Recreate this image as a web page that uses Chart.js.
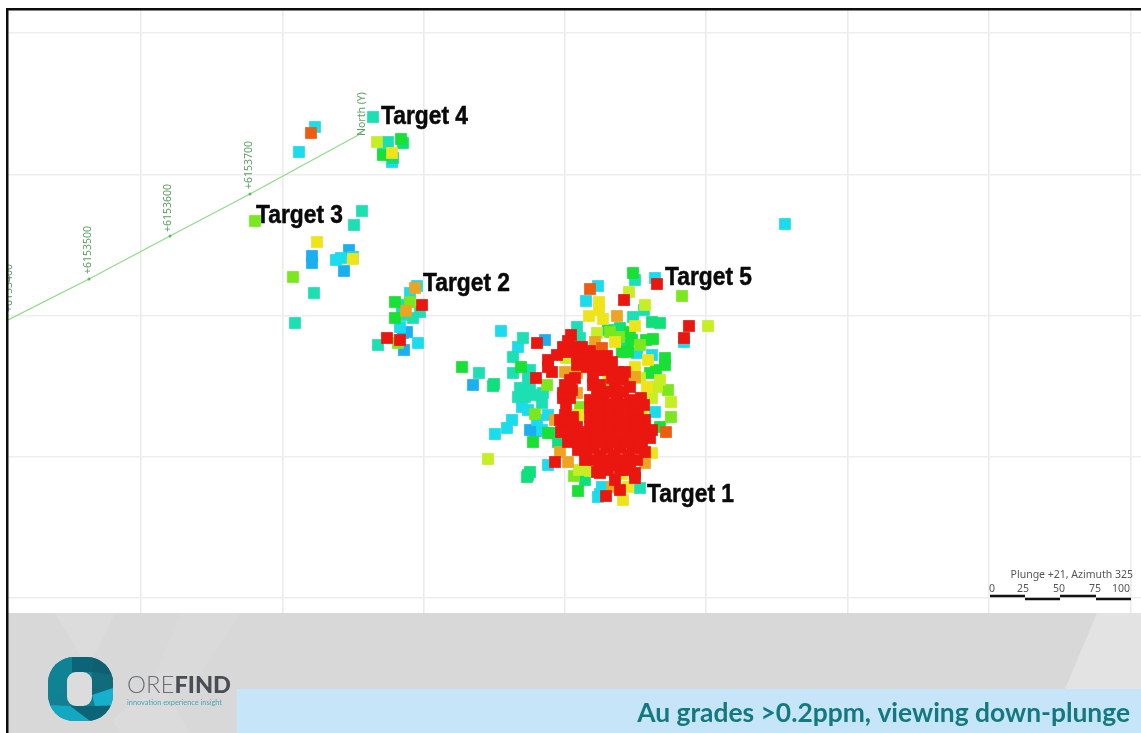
<!DOCTYPE html>
<html><head><meta charset="utf-8">
<style>html,body{margin:0;padding:0;background:#fff;overflow:hidden}canvas{display:block;filter:blur(.5px)}</style>
<script src="https://cdn.jsdelivr.net/npm/chart.js@4"></script></head>
<body><canvas id="c" width="1141" height="733"></canvas>
<script>
const gridX=[141,283,424,565,706,848,989,1131];
const gridY=[33,175,316,457,598];
const red=[[422,305],[387,338],[400,340],[657,284],[624,300],[689,326],[684,338],[537,343],[536,378],[555,462],[606,496],[620,490],[641,398],
[571,335],[563,347],[575,347],[568,341],[548,360],[557,355],[566,352],[577,357],[587,358],[603,363],[612,362],[552,372],[548,367],[577,365],[587,367],[603,370],[610,368],[618,372],[570,380],[593,377],[623,380],[563,393],[565,385],[575,378],[593,385],[630,387],[597,393],[617,392],[623,392],[563,398],[590,400],[603,400],[617,400],[630,400],[590,408],[603,408],[617,408],[630,408],[637,407],[565,415],[573,417],[590,417],[603,417],[617,417],[630,417],[645,420],[563,427],[577,427],[590,427],[603,427],[617,427],[630,427],[643,427],[570,437],[580,437],[592,438],[605,438],[618,438],[632,438],[650,438],[643,437],[578,450],[593,448],[607,448],[620,448],[633,448],[642,448],[595,460],[608,460],[622,460],[637,460],[597,472],[608,470],[620,470],[635,473],[627,470],[600,473],[615,480],[635,478],
[597,404],[610,404],[624,404],[597,412],[610,412],[624,412],[638,414],[597,422],[610,422],[624,422],[637,421],[597,433],[610,433],[624,433],[637,432],[584,432],[570,428],[572,422],[586,444],[600,443],[613,443],[627,443],[640,443],[586,455],[600,455],[614,455],[629,455],[645,452],[600,465],[614,465],[630,465],[566,405],[572,390],[570,398],[600,385],[597,370],[615,385],[612,378],[625,372],[582,347],[592,366],[585,460],
[560,420],[561,432],[568,442],[578,442],[652,430],[598,356],[607,356],[590,351],[644,405],[607,392]];
const redOrange=[[311,133],[602,348],[666,432],[590,289]];
const orange=[[415,288],[406,311],[617,316],[595,342],[597,349],[635,377],[565,372],[577,373],[577,393],[607,385],[555,420],[560,452],[568,462],[612,487],[645,463]];
const yellow=[[392,153],[317,242],[353,259],[599,302],[599,310],[589,316],[603,319],[635,326],[615,342],[648,360],[635,367],[608,380],[647,387],[643,412],[578,415],[652,453],[628,487],[623,500],[622,474]];
const yellowLime=[[377,142],[629,292],[645,305],[708,326],[597,333],[657,387],[671,402],[566,358],[488,459],[579,470],[590,471],[652,398],[640,378],[660,380]];
const lime=[[255,221],[293,277],[410,302],[398,343],[682,296],[619,337],[668,390],[671,417],[547,385],[535,414],[580,407],[574,476],[610,332],[640,345]];
const green=[[401,139],[383,155],[395,302],[395,318],[462,367],[633,273],[632,340],[653,339],[646,340],[622,352],[628,352],[665,358],[665,365],[650,373],[656,370],[521,367],[533,442],[578,491],[660,427],[548,433],[630,332]];
const spring=[[403,143],[393,158],[494,384],[493,386],[528,475],[527,477],[530,472],[652,322],[660,323],[552,433],[558,442],[608,330],[627,344],[585,480],[620,328]];
const teal=[[373,117],[388,142],[362,211],[354,225],[314,293],[295,323],[402,305],[413,318],[420,312],[402,315],[378,345],[479,373],[523,338],[513,357],[513,373],[530,370],[530,387],[543,393],[542,403],[635,280],[633,317],[580,338],[577,327],[640,488],[520,388],[525,397],[518,397],[644,310],[528,378],[535,395]];
const cyan=[[315,127],[299,152],[392,162],[383,153],[336,260],[341,258],[353,257],[417,286],[410,293],[400,327],[418,343],[501,331],[518,347],[522,407],[512,420],[507,428],[495,434],[542,430],[548,415],[548,465],[598,497],[602,487],[598,286],[586,301],[655,278],[637,353],[652,355],[785,224],[684,342],[655,412],[537,420],[528,410],[600,494]];
const blue=[[312,256],[312,263],[349,250],[344,271],[407,332],[403,333],[404,350],[473,385],[530,430],[545,340],[536,431]];
const axisLine=[[8,320],[89,279],[170,236],[250,194],[362,133]];
const axisTickText=["+6153400","+6153500","+6153600","+6153700","North (Y)"];
const axisTickPos=[[9,288],[88,250],[168,208],[249,165],[362,114]];
const targetNames=["Target 1","Target 2","Target 3","Target 4","Target 5"];
const targetPos=[[647,502],[423,291],[256,223],[381,124],[665,285]];
const barLow=[[1025,599],[1060,599]];const barLow2=[[1096,599],[1131,599]];
const barHigh=[[990,596],[1025,596]];const barHigh2=[[1060,596],[1096,596]];
const scaleNums=["0","25","50","75","100"];
const scaleNumX=[992,1023,1059,1095,1121];

const bands=[["red",red,"#ea1610"],["redOrange",redOrange,"#ee5c12"],["orange",orange,"#eca422"],["yellow",yellow,"#efe41a"],["yellowLime",yellowLime,"#c6ee22"],["lime",lime,"#7ae81c"],["green",green,"#18e034"],["spring",spring,"#10e07c"],["teal",teal,"#1ce0b4"],["cyan",cyan,"#1adcec"],["blue",blue,"#1ab0f0"]];
const pts=a=>a.map(p=>({x:p[0],y:p[1]}));
const seg=(a,color,w)=>({type:"line",data:pts(a),borderColor:color,borderWidth:w,pointRadius:0,showLine:true,order:20,label:"line",clip:false});
const datasets=bands.map((b,i)=>({label:b[0],data:pts(b[1]),pointStyle:"rect",pointRadius:8.3,pointHoverRadius:8.3,backgroundColor:b[2],borderWidth:0,order:i}));
datasets.push({type:"line",label:"axis",data:pts(axisLine),borderColor:"#8fdc88",borderWidth:1.3,pointRadius:[0,1.5,1.5,1.5,0],pointBackgroundColor:"#5fb85f",pointBorderWidth:0,showLine:true,order:30});
datasets.push(seg(barLow,"#111",2.6),seg(barLow2,"#111",2.6),seg(barHigh,"#111",2.6),seg(barHigh2,"#111",2.6));

function poly(ctx,p,c){ctx.fillStyle=c;ctx.beginPath();p.forEach((q,i)=>i?ctx.lineTo(q[0],q[1]):ctx.moveTo(q[0],q[1]));ctx.closePath();ctx.fill();}
const decor={id:"decor",
 afterDatasetsDraw(chart){
  const {ctx,scales:{x,y}}=chart;
  ctx.save();
  ctx.fillStyle="#0a0a0a";ctx.strokeStyle="#0a0a0a";ctx.lineWidth=.5;ctx.font="bold 25px 'Liberation Sans'";ctx.textAlign="left";ctx.textBaseline="alphabetic";
  targetNames.forEach((t,i)=>{const px=x.getPixelForValue(targetPos[i][0]),py=y.getPixelForValue(targetPos[i][1]);ctx.fillText(t,px,py,87);ctx.strokeText(t,px,py,87);});
  ctx.fillStyle="#5c9e62";ctx.font="10.5px 'Noto Sans'";ctx.textAlign="center";ctx.textBaseline="middle";
  ctx.save();ctx.beginPath();ctx.rect(8,10,1133,603);ctx.clip();
  axisTickText.forEach((t,i)=>{ctx.save();ctx.translate(x.getPixelForValue(axisTickPos[i][0]),y.getPixelForValue(axisTickPos[i][1]));ctx.rotate(-Math.PI/2);ctx.fillText(t,0,0);ctx.restore();});
  ctx.restore();
  ctx.fillStyle="#555";ctx.font="10.5px 'Noto Sans'";ctx.textAlign="right";
  ctx.fillText("Plunge +21, Azimuth 325",1133,575);
  ctx.textAlign="center";
  scaleNums.forEach((t,i)=>ctx.fillText(t,scaleNumX[i],589));
  ctx.restore();
 },
 afterDraw(chart){
  const ctx=chart.ctx;ctx.save();
  ctx.fillStyle="#d8d8d8";ctx.fillRect(8,613,1133,120);
  poly(ctx,[[55,613],[115,613],[88,668]],"#dcdcdc");
  poly(ctx,[[180,613],[240,613],[190,689],[150,689]],"#dadada");
  poly(ctx,[[1097,613],[1141,613],[1141,689],[1065,689]],"#e3e3e3");
  poly(ctx,[[112,720],[120,733],[190,733],[160,680]],"#dbdbdb");
  ctx.fillStyle="#c6e5f9";ctx.fillRect(237,689,904,44);
  ctx.fillStyle="#14797f";ctx.font="bold 26.4px Lato";ctx.textAlign="right";ctx.textBaseline="alphabetic";
  ctx.fillText("Au grades >0.2ppm, viewing down-plunge",1130,722);
  ctx.save();
  ctx.beginPath();ctx.roundRect(48,657,65,64,26);ctx.clip();
  ctx.fillStyle="#137f93";ctx.fillRect(48,657,65,64);
  poly(ctx,[[48,657],[72,657],[72,690],[48,700]],"#0f8294");
  poly(ctx,[[72,657],[95,657],[95,672],[72,672]],"#0b6478");
  poly(ctx,[[95,657],[113,657],[113,680],[92,672]],"#0e5f70");
  poly(ctx,[[92,672],[113,675],[113,695],[92,700]],"#116b7b");
  poly(ctx,[[92,695],[113,688],[113,705],[95,706]],"#16b0cd");
  poly(ctx,[[70,706],[113,706],[113,721],[90,721]],"#0c6477");
  poly(ctx,[[70,706],[90,721],[60,721],[48,705]],"#12a8c2");
  ctx.restore();
  ctx.fillStyle="#dcdcdc";ctx.beginPath();ctx.roundRect(67,672,25,34,9);ctx.fill();
  ctx.textAlign="left";ctx.fillStyle="#6c7076";ctx.font="300 24px Lato";
  ctx.fillText("ORE",127,693);const w=ctx.measureText("ORE").width;
  ctx.fillStyle="#4a4e54";ctx.font="900 23.5px Lato";ctx.fillText("FIND",127+w,693);
  ctx.fillStyle="#4aa6b4";ctx.font="7.4px Lato";ctx.fillText("innovation experience insight",127,705,104);
  ctx.fillStyle="#0c0c0c";ctx.fillRect(6,8,1135,2.5);ctx.fillRect(6,8,2.5,725);
  ctx.restore();
 }};
new Chart(document.getElementById("c"),{type:"scatter",data:{datasets},plugins:[decor],
 options:{responsive:false,animation:false,
  layout:{autoPadding:false,padding:{left:8,top:10,right:0,bottom:120}},
  plugins:{legend:{display:false},tooltip:{enabled:false},title:{display:false}},
  events:[],
  scales:{
   x:{type:"linear",min:8,max:1141,border:{display:false},ticks:{display:false},
      afterBuildTicks(a){a.ticks=gridX.map(v=>({value:v}));},grid:{color:"#ebebeb",lineWidth:1.6,drawTicks:false}},
   y:{type:"linear",min:10,max:613,reverse:true,border:{display:false},ticks:{display:false},
      afterBuildTicks(a){a.ticks=gridY.map(v=>({value:v}));},grid:{color:"#eeeeee",lineWidth:1.6,drawTicks:false}}
  }}});
</script></body></html>
